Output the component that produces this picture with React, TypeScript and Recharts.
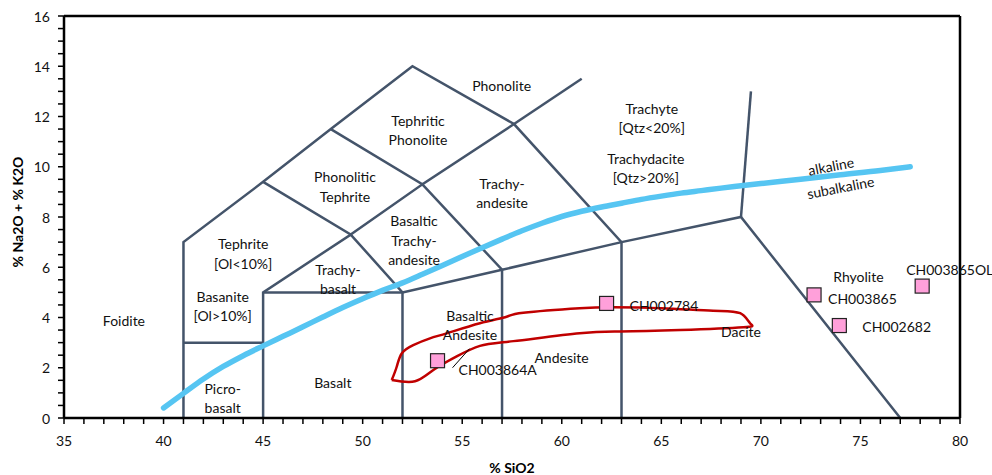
import { ComposedChart, XAxis, YAxis, Line, Scatter, ReferenceLine } from "recharts"

const FONT = "Lato, 'Open Sans', sans-serif"
const FIELD_COLOR = "#44546a"

// axis ticks
const xTicks = Array.from({ length: 46 }, (_, i) => 35 + i)
const yTicks = Array.from({ length: 33 }, (_, i) => i * 0.5)

// TAS field boundaries (SiO2, Na2O+K2O)
const fieldLines: [number, number][][] = [
  [[41, 0], [41, 7], [45, 9.4], [48.4, 11.5], [52.5, 14], [57.6, 11.7], [63, 7], [63, 0]],
  [[57.6, 11.7], [61, 13.5]],
  [[41, 3], [45, 3]],
  [[45, 0], [45, 5], [49.4, 7.3], [52, 5], [52, 0]],
  [[45, 5], [52, 5], [57, 5.9], [63, 7], [69, 8], [77, 0]],
  [[69, 8], [69.5, 13]],
  [[45, 9.4], [49.4, 7.3], [53, 9.3], [57, 5.9], [57, 0]],
  [[48.4, 11.5], [53, 9.3], [57.6, 11.7]],
]

// alkaline / subalkaline divide
const alkSiO2 = [40, 41, 42, 43, 44, 45, 46, 47, 48, 49, 50, 51, 52, 53, 54, 55, 56, 57, 58, 59, 60, 61, 62, 63, 64, 65, 66, 67, 68, 69, 70, 72, 74, 76, 77.5]
const alkTotal = [0.4, 0.98, 1.55, 2.05, 2.48, 2.87, 3.25, 3.63, 4.02, 4.4, 4.75, 5.08, 5.38, 5.72, 6.07, 6.43, 6.78, 7.12, 7.45, 7.75, 8.02, 8.23, 8.4, 8.55, 8.7, 8.83, 8.95, 9.05, 9.15, 9.24, 9.33, 9.5, 9.68, 9.85, 10.0]

// red envelope
const loopSiO2 = [51.46, 51.71, 51.96, 52.54, 53.38, 54.22, 55.89, 57.23, 58.07, 60.9, 62.59, 65, 67.6, 68.96, 69.46, 69.12, 65.94, 62.93, 60.9, 57.57, 55.89, 54.72, 53.55, 52.63, 51.46]
const loopTotal = [1.51, 2.04, 2.57, 2.9, 3.17, 3.37, 3.77, 4.03, 4.19, 4.37, 4.41, 4.37, 4.27, 4.17, 3.77, 3.61, 3.5, 3.44, 3.37, 3.06, 2.87, 2.45, 1.91, 1.46, 1.51]

// samples
const sampleNames = ["CH002784", "CH003864A", "CH003865", "CH002682", "CH003865OL"]
const sampleSiO2 = [62.25, 53.76, 72.67, 73.94, 78.1]
const sampleTotal = [4.56, 2.28, 4.9, 3.68, 5.25]

// field names
const fieldNames = [
  ["Foidite"],
  ["Tephrite", "[Ol<10%]"],
  ["Basanite", "[Ol>10%]"],
  ["Picro-", "basalt"],
  ["Basalt"],
  ["Trachy-", "basalt"],
  ["Basaltic", "Trachy-", "andesite"],
  ["Phonolitic", "Tephrite"],
  ["Tephritic", "Phonolite"],
  ["Phonolite"],
  ["Trachy-", "andesite"],
  ["Trachyte", "[Qtz<20%]"],
  ["Trachydacite", "[Qtz>20%]"],
  ["Basaltic", "Andesite"],
  ["Andesite"],
  ["Dacite"],
  ["Rhyolite"],
]
const fieldX = [38.01, 44.0, 42.97, 42.97, 48.5, 48.76, 52.58, 49.11, 52.78, 56.98, 57.0, 64.52, 64.22, 55.39, 59.99, 69.0, 74.9]
const fieldY = [3.9, 6.55, 4.46, 0.8, 1.42, 5.53, 7.08, 9.22, 11.46, 13.25, 8.96, 11.94, 9.96, 3.7, 2.41, 3.43, 5.62]

const seriesNames = ["alkaline", "subalkaline"]
const seriesX = [73.52, 74.0]
const seriesY = [10.03, 9.18]

// label placement relative to the marker, in px
const labelOffset: Record<string, [number, number]> = {
  CH002784: [23, 2],
  CH003864A: [21, 9],
  CH003865: [14, 4],
  CH002682: [23, 1],
  CH003865OL: [-16, -17],
}

const fieldData = fieldLines.map((pts) => pts.map(([x, y]) => ({ x, y })))
const alkData = alkSiO2.map((x, i) => ({ x, y: alkTotal[i] }))
const loopData = loopSiO2.map((x, i) => ({ x, y: loopTotal[i] }))
const sampleData = sampleNames.map((name, i) => ({ name, x: sampleSiO2[i], y: sampleTotal[i] }))
const fieldLabelData = fieldNames.map((lines, i) => ({ lines, x: fieldX[i], y: fieldY[i] }))
const seriesLabelData = seriesNames.map((name, i) => ({ name, x: seriesX[i], y: seriesY[i] }))

const XTick = (props: any) => {
  const { x, y, payload } = props
  const v = payload.value
  return (
    <g>
      <line x1={x} x2={x} y1={y} y2={y + 6} stroke="#000" strokeWidth={1.5} />
      {v % 5 === 0 && (
        <text x={x} y={y + 22} textAnchor="middle" dominantBaseline="central" fontSize={14} fontFamily={FONT} fill="#111">
          {v}
        </text>
      )}
    </g>
  )
}

const YTick = (props: any) => {
  const { x, y, payload } = props
  const v = payload.value
  return (
    <g>
      <line x1={x - 6} x2={x} y1={y} y2={y} stroke="#000" strokeWidth={1.5} />
      {v % 2 === 0 && (
        <text x={x - 14} y={y} textAnchor="end" dominantBaseline="central" fontSize={14} fontFamily={FONT} fill="#111">
          {v}
        </text>
      )}
    </g>
  )
}

const XTitle = (props: any) => {
  const vb = props.viewBox || {}
  return (
    <text x={vb.x + vb.width / 2} y={vb.y + 49} textAnchor="middle" dominantBaseline="central" fontSize={14} fontWeight="bold" fontFamily={FONT}>
      % SiO2
    </text>
  )
}

const YTitle = (props: any) => {
  const vb = props.viewBox || {}
  const cx = 17
  const cy = vb.y + vb.height / 2 - 5
  return (
    <text x={cx} y={cy} transform={`rotate(-90 ${cx} ${cy})`} textAnchor="middle" dominantBaseline="central" fontSize={14} fontWeight="bold" fontFamily={FONT}>
      % Na2O + % K2O
    </text>
  )
}

const FieldLabel = (props: any) => {
  const { cx, cy } = props
  const lines: string[] = (props.payload || props).lines
  const lh = 19.5
  const top = cy - ((lines.length - 1) * lh) / 2
  return (
    <g>
      {lines.map((t, i) => (
        <text key={i} x={cx} y={top + i * lh} textAnchor="middle" dominantBaseline="central" fontSize={14} fontFamily={FONT} fill="#111">
          {t}
        </text>
      ))}
    </g>
  )
}

const SeriesLabel = (props: any) => {
  const { cx, cy } = props
  const name: string = (props.payload || props).name
  return (
    <text x={cx} y={cy} transform={`rotate(-11 ${cx} ${cy})`} textAnchor="middle" dominantBaseline="central" fontSize={14} fontFamily={FONT} fill="#111">
      {name}
    </text>
  )
}

const SampleMark = (props: any) => {
  const { cx, cy } = props
  const name: string = (props.payload || props).name
  const [dx, dy] = labelOffset[name] || [14, 0]
  return (
    <g>
      <rect x={cx - 7} y={cy - 7} width={14} height={14} fill="#ffa0da" stroke="#222" strokeWidth={1.2} />
      {name === "CH003864A" && (
        <line x1={cx + 15} y1={cy + 7} x2={cx + 32} y2={cy - 12} stroke="#000" strokeWidth={1} />
      )}
      <text x={cx + dx} y={cy + dy} dominantBaseline="central" fontSize={14} fontFamily={FONT} fill="#111">
        {name}
      </text>
    </g>
  )
}

export default function App() {
  return (
    <div style={{ position: "absolute", left: 0, top: 0, width: 992, height: 475 }}>
      <ComposedChart width={992} height={475} margin={{ top: 16, right: 32, bottom: 0, left: 0 }}>
        <XAxis
          type="number"
          dataKey="x"
          domain={[35, 80]}
          ticks={xTicks}
          interval={0}
          height={57}
          tickSize={0}
          tickMargin={0}
          tickLine={false}
          tick={<XTick />}
          axisLine={{ stroke: "#000", strokeWidth: 2.5 }}
          label={<XTitle />}
        />
        <YAxis
          type="number"
          dataKey="y"
          domain={[0, 16]}
          ticks={yTicks}
          interval={0}
          width={64}
          tickSize={0}
          tickMargin={0}
          tickLine={false}
          tick={<YTick />}
          axisLine={{ stroke: "#000", strokeWidth: 2.5 }}
          label={<YTitle />}
        />
        <ReferenceLine y={16} stroke="#000" strokeWidth={2.5} />
        <ReferenceLine x={80} stroke="#000" strokeWidth={2.5} />
        {fieldData.map((d, i) => (
          <Line
            key={`f${i}`}
            data={d}
            dataKey="y"
            type="linear"
            stroke={FIELD_COLOR}
            strokeWidth={2.5}
            dot={false}
            activeDot={false}
            isAnimationActive={false}
          />
        ))}
        <Line data={alkData} dataKey="y" type="monotone" stroke="#56c5f2" strokeWidth={5.5} strokeLinecap="round" dot={false} activeDot={false} isAnimationActive={false} />
        <Line data={loopData} dataKey="y" type="natural" stroke="#c00000" strokeWidth={2.5} dot={false} activeDot={false} isAnimationActive={false} />
        <Scatter data={fieldLabelData} shape={<FieldLabel />} isAnimationActive={false} />
        <Scatter data={seriesLabelData} shape={<SeriesLabel />} isAnimationActive={false} />
        <Scatter data={sampleData} shape={<SampleMark />} isAnimationActive={false} />
      </ComposedChart>
    </div>
  )
}
